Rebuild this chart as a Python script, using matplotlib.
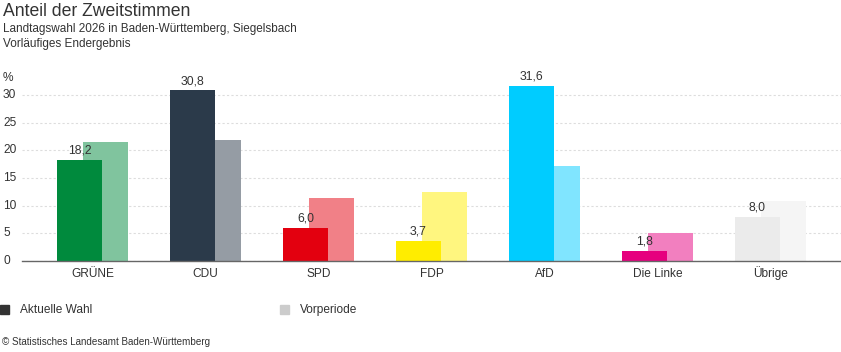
import matplotlib
matplotlib.use("Agg")
import matplotlib.pyplot as plt
from matplotlib.patches import Rectangle
from matplotlib.transforms import blended_transform_factory

plt.rcParams['font.family'] = ['Liberation Sans', 'DejaVu Sans']

parties = ["GRÜNE", "CDU", "SPD", "FDP", "AfD", "Die Linke", "Übrige"]
current = [18.2, 30.8, 6.0, 3.7, 31.6, 1.8, 8.0]
previous = [21.4, 21.9, 11.3, 12.5, 17.2, 5.0, 10.8]
labels = ["18,2", "30,8", "6,0", "3,7", "31,6", "1,8", "8,0"]
colors_cur = ["#008a3d", "#2b3a4a", "#e3000f", "#ffed00", "#00ccff", "#e6007e", "#ebebeb"]
colors_prev = ["#80c49e", "#959ca4", "#f18087", "#fff67f", "#80e5ff", "#f27fbf", "#f5f5f5"]
yticks = [0, 5, 10, 15, 20, 25, 30]

W, H = 841, 352
fig = plt.figure(figsize=(W / 100, H / 100), dpi=100)
ax = fig.add_axes([22 / W, 1 - 261 / H, 1 - 22 / W, 180 / H])

x = list(range(len(parties)))
bw = 45 / 113
off = 13 / 113
ax.bar([i + off for i in x], previous, width=bw, color=colors_prev, zorder=2)
ax.bar([i - off for i in x], current, width=bw, color=colors_cur, zorder=3)
for i, v in enumerate(current):
    ax.text(i - off, v + 0.6, labels[i], ha="center", va="bottom", fontsize=8.8, color="#333333", zorder=4)

ax.set_xlim(-0.624, 6.624)
ax.set_ylim(0, 32.5)
ax.set_yticks(yticks)
ax.set_yticklabels([])
for t in yticks:
    fig.text(3 / W, 1 - (261 - t * 5.53) / H, str(t), ha="left", va="center", fontsize=8.6, color="#333333")
fig.text(3 / W, 1 - 78 / H, "%", ha="left", va="center", fontsize=8.6, color="#333333")
ax.tick_params(axis="y", length=0)
ax.yaxis.grid(True, linestyle=(0, (2, 2)), color="#dddddd", linewidth=0.8, zorder=0)
ax.set_xticks(x)
ax.set_xticklabels([])
ax.tick_params(axis="x", length=0)
trans = blended_transform_factory(ax.transData, fig.transFigure)
for i, p in enumerate(parties):
    ax.text(i, 1 - 277 / H, p, transform=trans, ha="center", va="baseline", fontsize=8.6, color="#333333")
for s in ["top", "right", "left"]:
    ax.spines[s].set_visible(False)
ax.spines["bottom"].set_color("#666666")
ax.spines["bottom"].set_linewidth(1.0)
ax.spines["bottom"].set_zorder(5)

fig.text(3 / W, 1 - 12 / H, "Anteil der Zweitstimmen", fontsize=12.7, color="#333333", va="center", ha="left")
fig.text(3 / W, 1 - 29 / H, "Landtagswahl 2026 in Baden-Württemberg, Siegelsbach", fontsize=8.5, color="#333333", va="center", ha="left")
fig.text(3 / W, 1 - 44 / H, "Vorläufiges Endergebnis", fontsize=8.5, color="#333333", va="center", ha="left")

fig.patches.append(Rectangle((0 / W, 1 - 314 / H), 9 / W, 9 / H, transform=fig.transFigure, color="#333333"))
fig.text(20 / W, 1 - 310 / H, "Aktuelle Wahl", fontsize=8.6, color="#333333", va="center", ha="left")
fig.patches.append(Rectangle((280 / W, 1 - 314 / H), 9 / W, 9 / H, transform=fig.transFigure, color="#cccccc"))
fig.text(300 / W, 1 - 310 / H, "Vorperiode", fontsize=8.6, color="#333333", va="center", ha="left")

fig.text(2 / W, 1 - 342 / H, "© Statistisches Landesamt Baden-Württemberg", fontsize=7.1, color="#333333", va="center", ha="left")

fig.savefig("out.png", dpi=100)
